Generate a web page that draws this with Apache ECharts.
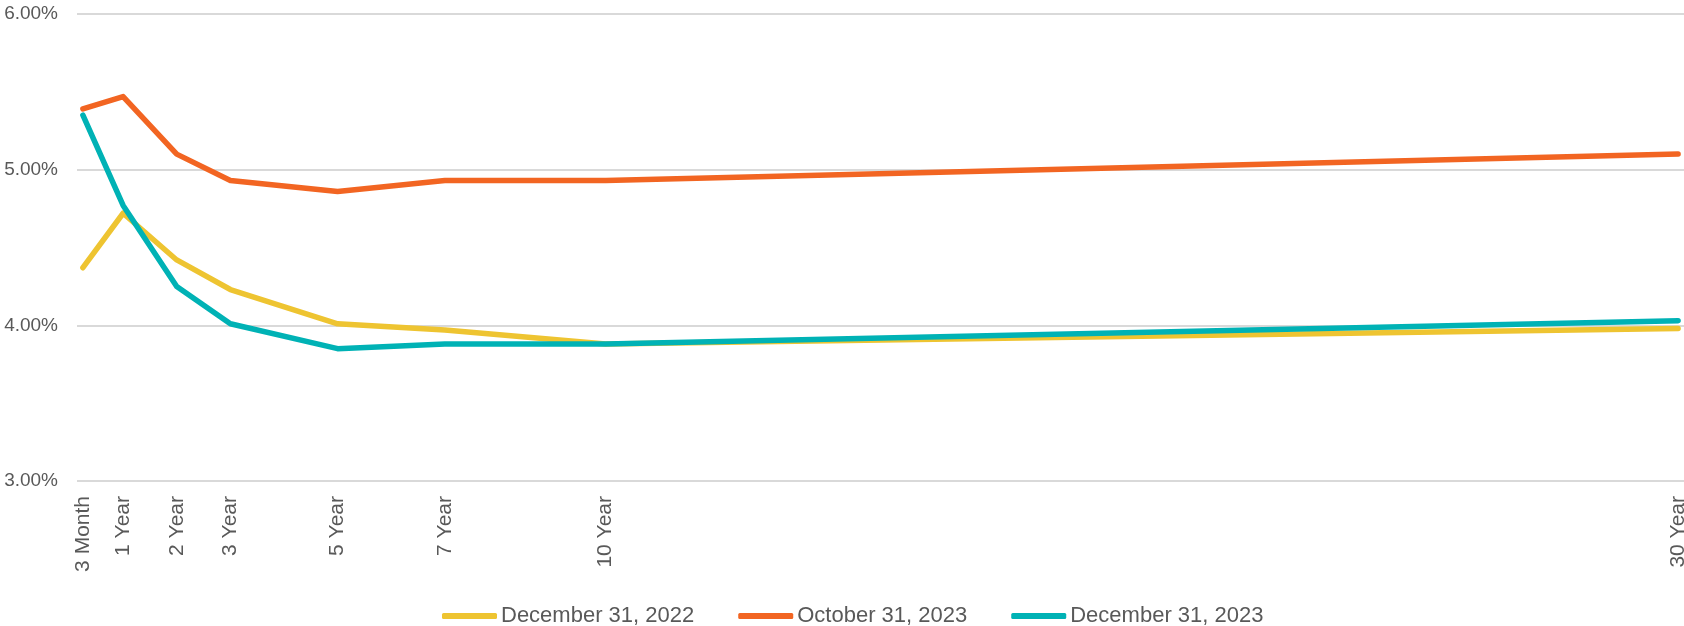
<!DOCTYPE html>
<html>
<head>
<meta charset="utf-8">
<script src="https://cdn.jsdelivr.net/npm/echarts@6/dist/echarts.min.js"></script>
<style>
html,body{margin:0;padding:0;background:#fff;}
#chart{width:1684px;height:626px;}
</style>
</head>
<body>
<div id="chart"></div>
<script>
const tenorYears = [0.25, 1, 2, 3, 5, 7, 10, 30];
const tenorLabels = ['3 Month', '1 Year', '2 Year', '3 Year', '5 Year', '7 Year', '10 Year', '30 Year'];
const seriesNames = ['December 31, 2022', 'October 31, 2023', 'December 31, 2023'];
const dec2022 = [4.37, 4.72, 4.42, 4.23, 4.01, 3.97, 3.88, 3.98];
const oct2023 = [5.39, 5.47, 5.10, 4.93, 4.86, 4.93, 4.93, 5.10];
const dec2023 = [5.35, 4.77, 4.25, 4.01, 3.85, 3.88, 3.88, 4.03];
const colors = ['#EEC431', '#F26522', '#00B2B5'];
const yTicks = [3, 4, 5, 6];

const allValues = [dec2022, oct2023, dec2023];
const labelFont = '"Liberation Sans", Arial, sans-serif';

const chart = echarts.init(document.getElementById('chart'), null, {renderer: 'canvas'});
chart.setOption({
  animation: false,
  color: colors,
  grid: {left: 77, right: 0, top: 14, bottom: 145, containLabel: false, outerBoundsMode: 'none'},
  legend: {
    left: 437, top: 600,
    itemWidth: 55, itemHeight: 6, itemGap: 44,
    icon: 'roundRect',
    textStyle: {color: '#595959', fontSize: 22, fontFamily: labelFont, padding: [0, 0, 0, -1]},
    data: seriesNames
  },
  xAxis: {
    type: 'value',
    min: 0.14, max: 30.11,
    axisLine: {show: false},
    axisTick: {show: false},
    splitLine: {show: false},
    axisLabel: {
      customValues: tenorYears,
      rotate: 90,
      margin: 15,
      color: '#595959',
      fontSize: 21,
      fontFamily: labelFont,
      formatter: function (v) {
        const i = tenorYears.indexOf(v);
        return i >= 0 ? tenorLabels[i] : '';
      }
    }
  },
  yAxis: {
    type: 'value',
    min: yTicks[0], max: yTicks[yTicks.length - 1], interval: 1,
    axisLine: {show: false},
    axisTick: {show: false},
    splitLine: {lineStyle: {color: '#d9d9d9', width: 2}},
    axisLabel: {
      margin: 19,
      color: '#595959',
      fontSize: 19,
      fontFamily: labelFont,
      formatter: function (v) { return v.toFixed(2) + '%'; }
    }
  },
  series: seriesNames.map(function (name, s) {
    return {
      name: name,
      type: 'line',
      symbol: 'none',
      lineStyle: {width: 5.5, cap: 'round', join: 'round', color: colors[s]},
      itemStyle: {color: colors[s]},
      data: tenorYears.map(function (x, i) { return [x, allValues[s][i]]; })
    };
  })
});
</script>
</body>
</html>
